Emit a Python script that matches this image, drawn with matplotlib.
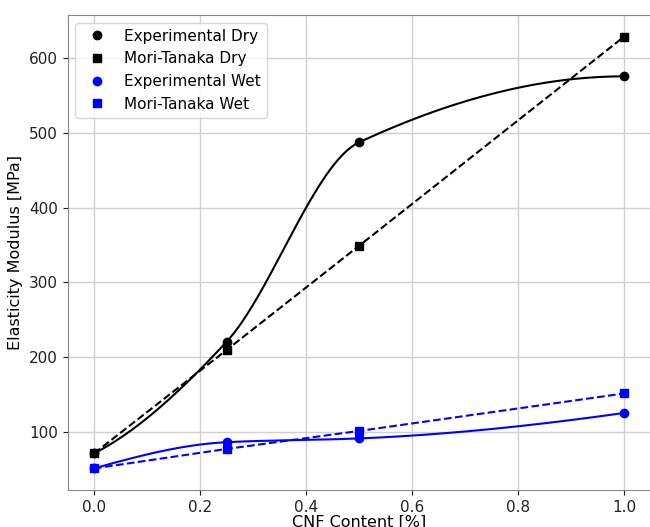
import numpy as np
import matplotlib.pyplot as plt

cnf = [0.0, 0.25, 0.5, 1.0]
exp_dry = [72, 221, 487, 575]
mt_dry = [72, 210, 349, 628]
exp_wet = [52, 87, 92, 126]
mt_wet = [52, 78, 102, 152]


def pchip(x, y, xs):
    # monotone piecewise cubic (same as scipy PchipInterpolator)
    x = np.asarray(x, float)
    y = np.asarray(y, float)
    h = np.diff(x)
    d = np.diff(y) / h
    n = len(x)
    m = np.zeros(n)
    for k in range(1, n - 1):
        if d[k - 1] * d[k] > 0:
            w1 = 2 * h[k] + h[k - 1]
            w2 = h[k] + 2 * h[k - 1]
            m[k] = (w1 + w2) / (w1 / d[k - 1] + w2 / d[k])

    def end(h0, h1, d0, d1):
        s = ((2 * h0 + h1) * d0 - h0 * d1) / (h0 + h1)
        if np.sign(s) != np.sign(d0):
            s = 0.0
        elif np.sign(d0) != np.sign(d1) and abs(s) > abs(3 * d0):
            s = 3 * d0
        return s

    m[0] = end(h[0], h[1], d[0], d[1])
    m[-1] = end(h[-1], h[-2], d[-1], d[-2])
    idx = np.clip(np.searchsorted(x, xs) - 1, 0, n - 2)
    t = (xs - x[idx]) / h[idx]
    h00 = 2 * t**3 - 3 * t**2 + 1
    h10 = t**3 - 2 * t**2 + t
    h01 = -2 * t**3 + 3 * t**2
    h11 = t**3 - t**2
    return h00 * y[idx] + h10 * h[idx] * m[idx] + h01 * y[idx + 1] + h11 * h[idx] * m[idx + 1]


fig = plt.figure(figsize=(6.5, 5.27), dpi=100)
ax = fig.add_axes([0.104, 0.0702, 0.897, 0.9013])

xs = np.linspace(0, 1, 300)
ax.plot(xs, pchip(cnf, exp_dry, xs), '-', color='black', linewidth=1.5)
ax.plot(xs, pchip(cnf, exp_wet, xs), '-', color='blue', linewidth=1.5)
ax.plot(cnf, mt_dry, '--', color='black', linewidth=1.5)
ax.plot(cnf, mt_wet, '--', color='blue', linewidth=1.5)

ax.plot(cnf, exp_dry, 'o', color='black', markersize=6, linestyle='none', label='Experimental Dry')
ax.plot(cnf, mt_dry, 's', color='black', markersize=6, linestyle='none', label='Mori-Tanaka Dry')
ax.plot(cnf, exp_wet, 'o', color='blue', markersize=6, linestyle='none', label='Experimental Wet')
ax.plot(cnf, mt_wet, 's', color='blue', markersize=6, linestyle='none', label='Mori-Tanaka Wet')

ax.grid(True, color='#d0d0d0', linewidth=1)
ax.set_axisbelow(True)
ax.tick_params(labelsize=11, colors='#222222')
ax.set_xlabel('CNF Content [%]', fontsize=11.5, labelpad=0)
ax.set_ylabel('Elasticity Modulus [MPa]', fontsize=11.5)
for s in ax.spines.values():
    s.set_color('#888888')
ax.legend(loc='upper left', fontsize=11)

fig.savefig('out.png', dpi=100)
